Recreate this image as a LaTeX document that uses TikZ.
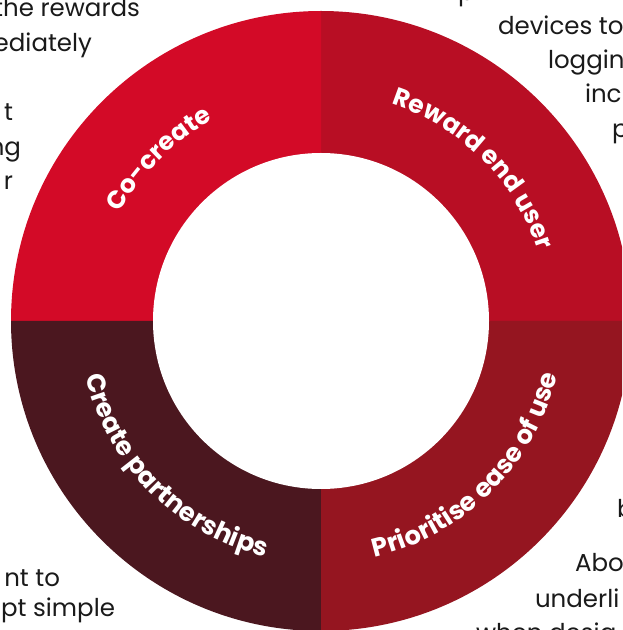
\documentclass[tikz,border=0pt]{standalone}
\usepackage{fontspec}
\usetikzlibrary{decorations.text}
\newfontfamily\bodyfont{Poppins}
\newfontfamily\labelfamily{Poppins}
\newcommand\ringlabelfont{\labelfamily\bfseries\fontsize{25}{25}\selectfont}
\newcommand\ringlabelfontb{\labelfamily\bfseries\fontsize{25.8}{25.8}\selectfont}
\definecolor{qtl}{HTML}{D30A27}
\definecolor{qtr}{HTML}{B80E24}
\definecolor{qbr}{HTML}{951520}
\definecolor{qbl}{HTML}{4B171F}
\definecolor{bodyink}{HTML}{1A1A1A}
\tikzset{
  bodyline/.style={inner sep=0pt, outer sep=0pt, text=bodyink, font=\bodyfont\fontsize{24.5}{24.5}\selectfont},
  ringtext/.style={decorate, decoration={text along path, text align=center, text color=white}}
}
\begin{document}
\begin{tikzpicture}[x=1pt,y=1pt]
\useasboundingbox (0,0) rectangle (622,630);
\clip (0,0) rectangle (622,630);
\fill[white] (0,0) rectangle (622,630);
\coordinate (c) at (321,309);
% quadrants
\fill[qtr] (c) -- ++(0:310) arc[start angle=0, end angle=90, radius=310] -- cycle;
\fill[qtl] (c) -- ++(90:310) arc[start angle=90, end angle=180, radius=310] -- cycle;
\fill[qbl] (c) -- ++(180:310) arc[start angle=180, end angle=270, radius=310] -- cycle;
\fill[qbr] (c) -- ++(270:310) arc[start angle=270, end angle=360, radius=310] -- cycle;
\fill[white] (c) circle[radius=168];
% ring labels
\path[ringtext, decoration={text={|\ringlabelfont|Co-create}}]
  (c) ++(180:228) arc[start angle=180, end angle=90, radius=228];
\path[ringtext, decoration={text={|\ringlabelfont|Reward end user}}]
  (c) ++(90:228) arc[start angle=90, end angle=0, radius=228];
\path[ringtext, decoration={text={|\ringlabelfontb|Prioritise ease of use}}]
  (c) ++(270:242) arc[start angle=270, end angle=360, radius=242];
\path[ringtext, decoration={text={|\ringlabelfontb|Create partnerships}}]
  (c) ++(180:242) arc[start angle=180, end angle=270, radius=242];
% body text fragments, top left
\node[bodyline, anchor=base east] (tl1) at (140,613) {the rewards};
\node[bodyline, anchor=base east] (tl2) at (92,578) {ediately};
\node[bodyline, anchor=base east] (tl3) at (13,509) {t};
\node[bodyline, anchor=base east] (tl4) at (21,474.5) {ng};
\node[bodyline, anchor=base east] (tl5) at (13,440) {r};
% top right
\node[bodyline, anchor=base west] (tr0) at (458,629.5) {p};
\node[bodyline, anchor=base west] (tr1) at (498,595) {devices to};
\node[bodyline, anchor=base west] (tr2) at (548,561.5) {loggin};
\node[bodyline, anchor=base west] (tr3) at (585,527) {inc};
\node[bodyline, anchor=base west] (tr4) at (612,492.5) {p};
% bottom right
\node[bodyline, anchor=base west] (br1) at (617,112) {b};
\node[bodyline, anchor=base west] (br2) at (575,58) {Abo};
\node[bodyline, anchor=base west] (br3) at (535,23) {underli};
\node[bodyline, anchor=base west] (br4) at (476,-11) {when desig};
% bottom left
\node[bodyline, anchor=base east] (bl1) at (60,43) {nt to};
\node[bodyline, anchor=base east] (bl2) at (115,13) {pt simple};
\end{tikzpicture}
\end{document}
